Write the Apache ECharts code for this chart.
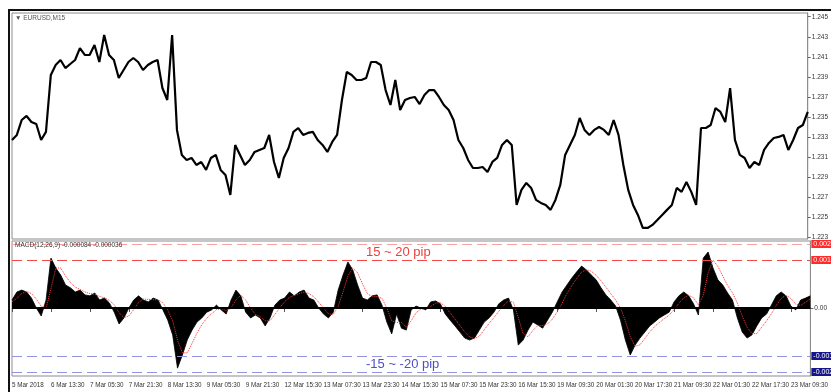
<!DOCTYPE html>
<html>
<head>
<meta charset="utf-8">
<script src="https://cdn.jsdelivr.net/npm/echarts@6/dist/echarts.min.js"></script>
<style>
  html, body { margin: 0; padding: 0; background: #fff; }
  #chart { width: 831px; height: 392px; }
</style>
</head>
<body>
<div id="chart"></div>
<script>
// EURUSD M15, one sample every 2 hours (8 bars), 5–23 Mar 2018
const timeLabels = [
  '5 Mar 2018', '6 Mar 13:30', '7 Mar 05:30', '7 Mar 21:30', '8 Mar 13:30',
  '9 Mar 05:30', '9 Mar 21:30', '12 Mar 15:30', '13 Mar 07:30', '13 Mar 23:30',
  '14 Mar 15:30', '15 Mar 07:30', '15 Mar 23:30', '16 Mar 15:30', '19 Mar 09:30',
  '20 Mar 01:30', '20 Mar 17:30', '21 Mar 09:30', '22 Mar 01:30', '22 Mar 17:30',
  '23 Mar 09:30'
];

const priceTicks = [1.245, 1.243, 1.241, 1.239, 1.237, 1.235, 1.233, 1.231, 1.229, 1.227, 1.225, 1.223];

const closePrice = [
  1.23273, 1.23323, 1.23472, 1.23512, 1.23452, 1.23432, 1.23273, 1.23353, 1.23920, 1.24019,
  1.24069, 1.23989, 1.24029, 1.24069, 1.24188, 1.24119, 1.24119, 1.24218, 1.24049, 1.24318,
  1.24119, 1.24069, 1.23890, 1.23970, 1.24049, 1.24089, 1.24049, 1.23970, 1.24019, 1.24049,
  1.24069, 1.23790, 1.23671, 1.24318, 1.23373, 1.23124, 1.23074, 1.23094, 1.23024, 1.23054,
  1.22975, 1.23094, 1.23124, 1.22975, 1.22925, 1.22726, 1.23223, 1.23124, 1.23024, 1.23074,
  1.23154, 1.23174, 1.23193, 1.23323, 1.23054, 1.22895, 1.23094, 1.23193, 1.23353, 1.23392,
  1.23323, 1.23343, 1.23353, 1.23273, 1.23223, 1.23154, 1.23253, 1.23323, 1.23671, 1.23950,
  1.23920, 1.23870, 1.23870, 1.23890, 1.24049, 1.24049, 1.24019, 1.23770, 1.23621, 1.23870,
  1.23571, 1.23671, 1.23691, 1.23701, 1.23631, 1.23721, 1.23770, 1.23770, 1.23701, 1.23621,
  1.23571, 1.23472, 1.23273, 1.23193, 1.23074, 1.22994, 1.22994, 1.23004, 1.22955, 1.23054,
  1.23094, 1.23223, 1.23273, 1.23223, 1.22626, 1.22776, 1.22845, 1.22795, 1.22676, 1.22646,
  1.22626, 1.22577, 1.22676, 1.22825, 1.23124, 1.23223, 1.23323, 1.23492, 1.23373, 1.23323,
  1.23373, 1.23402, 1.23373, 1.23323, 1.23472, 1.23323, 1.23024, 1.22776, 1.22626, 1.22527,
  1.22397, 1.22397, 1.22427, 1.22477, 1.22527, 1.22577, 1.22626, 1.22795, 1.22756, 1.22855,
  1.22756, 1.22626, 1.23392, 1.23392, 1.23422, 1.23591, 1.23552, 1.23452, 1.23790, 1.23273,
  1.23124, 1.23094, 1.22994, 1.23054, 1.23024, 1.23174, 1.23243, 1.23293, 1.23303, 1.23323,
  1.23174, 1.23273, 1.23392, 1.23422, 1.23552
];

// MACD(12,26,9) main histogram
const macdMain = [
  0.00025, 0.00050, 0.00056, 0.00050, 0.00031, 0.00000, -0.00025, 0.00025, 0.00156, 0.00125,
  0.00103, 0.00072, 0.00063, 0.00050, 0.00056, 0.00041, 0.00038, 0.00047, 0.00025, 0.00031,
  0.00016, -0.00013, -0.00050, -0.00031, 0.00000, 0.00025, 0.00038, 0.00025, 0.00019, 0.00031,
  0.00025, -0.00006, -0.00038, -0.00084, -0.00188, -0.00147, -0.00100, -0.00069, -0.00044, -0.00031,
  -0.00013, -0.00006, 0.00009, -0.00006, -0.00019, 0.00025, 0.00056, 0.00038, -0.00013, -0.00031,
  -0.00022, -0.00031, -0.00056, -0.00031, 0.00009, 0.00025, 0.00031, 0.00050, 0.00038, 0.00050,
  0.00056, 0.00031, 0.00025, 0.00000, -0.00019, -0.00031, -0.00013, 0.00056, 0.00103, 0.00144,
  0.00119, 0.00072, 0.00031, 0.00025, 0.00038, 0.00041, 0.00009, -0.00044, -0.00081, -0.00019,
  -0.00063, -0.00069, -0.00006, 0.00006, 0.00000, -0.00006, 0.00019, 0.00022, 0.00013, -0.00019,
  -0.00038, -0.00056, -0.00075, -0.00094, -0.00100, -0.00094, -0.00069, -0.00044, -0.00031, -0.00013,
  0.00013, 0.00025, 0.00031, -0.00006, -0.00116, -0.00100, -0.00069, -0.00044, -0.00053, -0.00063,
  -0.00038, -0.00013, 0.00019, 0.00050, 0.00072, 0.00094, 0.00113, 0.00131, 0.00119, 0.00103,
  0.00088, 0.00063, 0.00041, 0.00025, 0.00006, -0.00038, -0.00100, -0.00147, -0.00116, -0.00094,
  -0.00075, -0.00056, -0.00044, -0.00031, -0.00022, -0.00013, 0.00019, 0.00038, 0.00050, 0.00038,
  0.00013, -0.00022, 0.00156, 0.00175, 0.00125, 0.00088, 0.00072, 0.00047, 0.00025, -0.00031,
  -0.00075, -0.00094, -0.00084, -0.00056, -0.00031, -0.00019, 0.00009, 0.00038, 0.00050, 0.00038,
  0.00006, -0.00006, 0.00025, 0.00031, 0.00038
];

// MACD signal line
const macdSignal = [
  0.00020, 0.00030, 0.00045, 0.00052, 0.00045, 0.00028, 0.00005, 0.00000, 0.00060, 0.00125,
  0.00125, 0.00100, 0.00080, 0.00065, 0.00058, 0.00050, 0.00045, 0.00043, 0.00036, 0.00032,
  0.00024, 0.00010, -0.00015, -0.00030, -0.00025, -0.00005, 0.00018, 0.00028, 0.00027, 0.00026,
  0.00026, 0.00016, -0.00006, -0.00040, -0.00100, -0.00140, -0.00140, -0.00110, -0.00078, -0.00052,
  -0.00032, -0.00018, -0.00005, -0.00002, -0.00008, 0.00000, 0.00025, 0.00040, 0.00025, 0.00000,
  -0.00020, -0.00027, -0.00040, -0.00040, -0.00020, 0.00000, 0.00020, 0.00033, 0.00040, 0.00045,
  0.00050, 0.00045, 0.00035, 0.00018, 0.00000, -0.00018, -0.00020, 0.00005, 0.00050, 0.00100,
  0.00125, 0.00110, 0.00075, 0.00045, 0.00035, 0.00036, 0.00030, 0.00000, -0.00040, -0.00045,
  -0.00045, -0.00060, -0.00040, -0.00015, -0.00003, -0.00002, 0.00005, 0.00015, 0.00017, 0.00005,
  -0.00015, -0.00035, -0.00055, -0.00075, -0.00090, -0.00096, -0.00088, -0.00068, -0.00048, -0.00030,
  -0.00010, 0.00008, 0.00022, 0.00018, -0.00030, -0.00080, -0.00090, -0.00070, -0.00055, -0.00055,
  -0.00050, -0.00035, -0.00012, 0.00015, 0.00045, 0.00070, 0.00092, 0.00112, 0.00120, 0.00115,
  0.00102, 0.00085, 0.00065, 0.00045, 0.00025, 0.00000, -0.00040, -0.00090, -0.00120, -0.00115,
  -0.00095, -0.00075, -0.00058, -0.00045, -0.00033, -0.00022, -0.00005, 0.00015, 0.00032, 0.00040,
  0.00032, 0.00010, 0.00040, 0.00110, 0.00150, 0.00130, 0.00100, 0.00070, 0.00048, 0.00015,
  -0.00025, -0.00060, -0.00080, -0.00080, -0.00060, -0.00040, -0.00018, 0.00008, 0.00030, 0.00040,
  0.00030, 0.00012, 0.00008, 0.00018, 0.00028
];

// Reference levels on the MACD window (15 and 20 pips)
const upperLevels = [0.0020, 0.0015];
const lowerLevels = [-0.0015, -0.0020];

const FONT = '"Liberation Sans", Arial, sans-serif';
const barIndex = closePrice.map((_, i) => String(i));

const levelLine = (value, lineColor, boxColor) => ({
  yAxis: value,
  lineStyle: { color: lineColor, type: [10, 5], width: 1 },
  label: {
    show: true,
    position: 'end',
    distance: 1,
    formatter: value.toFixed(5),
    color: '#fff',
    backgroundColor: boxColor,
    padding: [1, 2, 0, 2],
    fontSize: 7,
    fontFamily: FONT
  }
});

const chart = echarts.init(document.getElementById('chart'), null, { renderer: 'canvas' });

chart.setOption({
  animation: false,
  backgroundColor: '#fff',
  grid: [
    { left: 12, top: 13, width: 800, height: 226, show: true, borderColor: '#8c8c8c', borderWidth: 1 },
    { left: 12, top: 241, width: 800, height: 135, show: true, borderColor: '#8c8c8c', borderWidth: 1 }
  ],
  xAxis: [
    {
      gridIndex: 0, type: 'category', data: barIndex, boundaryGap: false,
      axisLine: { show: false }, axisTick: { show: false }, axisLabel: { show: false }
    },
    {
      gridIndex: 1, type: 'category', data: barIndex, boundaryGap: false,
      axisLine: { show: true, lineStyle: { color: '#8c8c8c' } },
      axisTick: { show: true, interval: 7, length: 4, lineStyle: { color: '#555' } },
      axisLabel: {
        interval: 7, align: 'left', margin: 6, fontSize: 6.3, color: '#333', fontFamily: FONT,
        formatter: (v) => timeLabels[Number(v) / 8] || ''
      }
    }
  ],
  yAxis: [
    {
      gridIndex: 0, type: 'value', position: 'right',
      min: 1.22287, max: 1.24537,
      splitLine: { show: false },
      axisLine: { show: true, lineStyle: { color: '#8c8c8c' } },
      axisTick: { show: true, length: 3, customValues: priceTicks, lineStyle: { color: '#666' } },
      axisLabel: {
        customValues: priceTicks, formatter: (v) => v.toFixed(3),
        fontSize: 6.5, color: '#333', margin: 4, fontFamily: FONT
      }
    },
    {
      gridIndex: 1, type: 'value', position: 'right',
      min: -0.002125, max: 0.0020938,
      splitLine: { show: false },
      axisLine: { show: true, lineStyle: { color: '#8c8c8c' } },
      axisTick: { show: true, length: 3, customValues: [0], lineStyle: { color: '#666' } },
      axisLabel: {
        customValues: [0], formatter: () => '0.00',
        fontSize: 6.5, color: '#333', margin: 4, fontFamily: FONT
      }
    }
  ],
  series: [
    {
      name: 'EURUSD,M15', type: 'line', xAxisIndex: 0, yAxisIndex: 0,
      data: closePrice, symbol: 'none',
      lineStyle: { color: '#000', width: 2.2 }
    },
    {
      name: 'MACD', type: 'line', xAxisIndex: 1, yAxisIndex: 1,
      data: macdMain, symbol: 'none', z: 2,
      lineStyle: { color: '#000', width: 0.8 },
      areaStyle: { color: '#000', opacity: 1, origin: 0 },
      markLine: {
        silent: true, symbol: 'none', animation: false, precision: 6,
        data: [
          levelLine(upperLevels[0], '#f7a3a3', '#ff2a2a'),
          levelLine(upperLevels[1], '#f04a4a', '#ff2a2a'),
          levelLine(lowerLevels[0], '#9393e0', '#16168a'),
          levelLine(lowerLevels[1], '#9393e0', '#16168a'),
          { yAxis: 0, lineStyle: { color: '#000', type: 'solid', width: 2 }, label: { show: false } }
        ]
      }
    },
    {
      name: 'Signal', type: 'line', xAxisIndex: 1, yAxisIndex: 1,
      data: macdSignal, symbol: 'none', z: 3,
      lineStyle: { color: '#ff3333', width: 1, type: 'dotted' }
    }
  ],
  graphic: [
    // window frame
    { type: 'line', shape: { x1: 8, y1: 10, x2: 831, y2: 10 }, style: { stroke: '#111', lineWidth: 2 }, z: 10 },
    { type: 'line', shape: { x1: 9, y1: 10, x2: 9, y2: 392 }, style: { stroke: '#111', lineWidth: 2 }, z: 10 },
    {
      type: 'text', left: 15, top: 15, z: 10,
      style: { text: '▼ EURUSD,M15', fontSize: 6.5, fill: '#555', fontFamily: FONT }
    },
    {
      type: 'text', left: 15, top: 241.5, z: 10,
      style: { text: 'MACD(12,26,9) -0.000084 -0.000036', fontSize: 6.5, fill: '#333', fontFamily: FONT }
    },
    {
      type: 'text', left: 366, top: 246, z: 10,
      style: { text: '15 ~ 20 pip', fontSize: 13, fill: '#ef3d3d', fontFamily: FONT }
    },
    {
      type: 'text', left: 366, top: 358, z: 10,
      style: { text: '-15 ~ -20 pip', fontSize: 13, fill: '#4f4fc8', fontFamily: FONT }
    }
  ]
});
</script>
</body>
</html>
